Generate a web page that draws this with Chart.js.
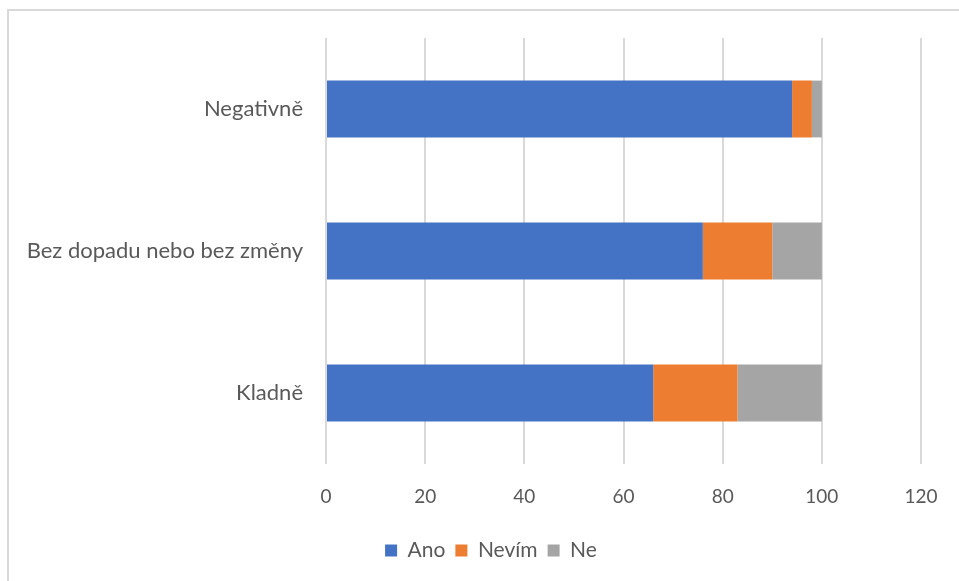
<!DOCTYPE html>
<html>
<head>
<meta charset="utf-8">
<script src="https://cdn.jsdelivr.net/npm/chart.js@4"></script>
<style>
  html, body { margin: 0; padding: 0; background: #fff; }
  #wrap { width: 959px; height: 581px; position: relative; }
</style>
</head>
<body>
<div id="wrap"><canvas id="myChart" width="959" height="581"></canvas></div>
<script>
// answers per group (percent)
const categories = ['Negativně', 'Bez dopadu nebo bez změny', 'Kladně'];
const ano = [94, 76, 66];
const nevim = [4, 14, 17];
const ne = [2, 10, 17];
const xTicks = [0, 20, 40, 60, 80, 100, 120];

const FONT = 'Lato, "Noto Sans", sans-serif';
const TEXT = '#595959';

// light frame round the whole chart
const frame = {
    id: 'frame',
    beforeDraw(chart) {
        const c = chart.ctx;
        c.save();
        c.strokeStyle = '#d9d9d9';
        c.lineWidth = 2;
        c.strokeRect(8, 10, chart.width, chart.height);
        c.restore();
    }
};

// push the legend a bit to the right
const legendShift = {
    id: 'legendShift',
    afterLayout(chart) {
        const lg = chart.legend;
        if (!lg) return;
        lg.left += 27;
        lg.right += 27;
    }
};

const ctx = document.getElementById('myChart');

new Chart(ctx, {
    type: 'bar',
    data: {
        labels: categories,
        datasets: [
            { label: 'Ano', data: ano, backgroundColor: '#4472C4' },
            { label: 'Nevím', data: nevim, backgroundColor: '#ED7D31' },
            { label: 'Ne', data: ne, backgroundColor: '#A5A5A5' }
        ]
    },
    options: {
        indexAxis: 'y',
        responsive: false,
        animation: false,
        barPercentage: 0.4,
        categoryPercentage: 1,
        layout: { padding: { top: 38, left: 7, right: 38, bottom: 10 } },
        scales: {
            x: {
                stacked: true,
                min: 0,
                max: 120,
                afterBuildTicks: s => { s.ticks = xTicks.map(v => ({ value: v })); },
                afterFit: s => { s.height = 66; },
                grid: { color: '#d9d9d9', lineWidth: 2, drawTicks: false },
                border: { display: false },
                ticks: { padding: 21, color: TEXT, font: { family: FONT, size: 19 } }
            },
            y: {
                stacked: true,
                afterFit: s => { s.width = 319; },
                grid: { display: false, drawTicks: false },
                border: { display: false },
                ticks: { padding: 23, color: TEXT, font: { family: FONT, size: 22 } }
            }
        },
        plugins: {
            legend: {
                position: 'bottom',
                labels: {
                    boxWidth: 12,
                    boxHeight: 12,
                    padding: 10,
                    color: TEXT,
                    font: { family: FONT, size: 21 }
                }
            },
            tooltip: { enabled: false }
        }
    },
    plugins: [frame, legendShift]
});
</script>
</body>
</html>
